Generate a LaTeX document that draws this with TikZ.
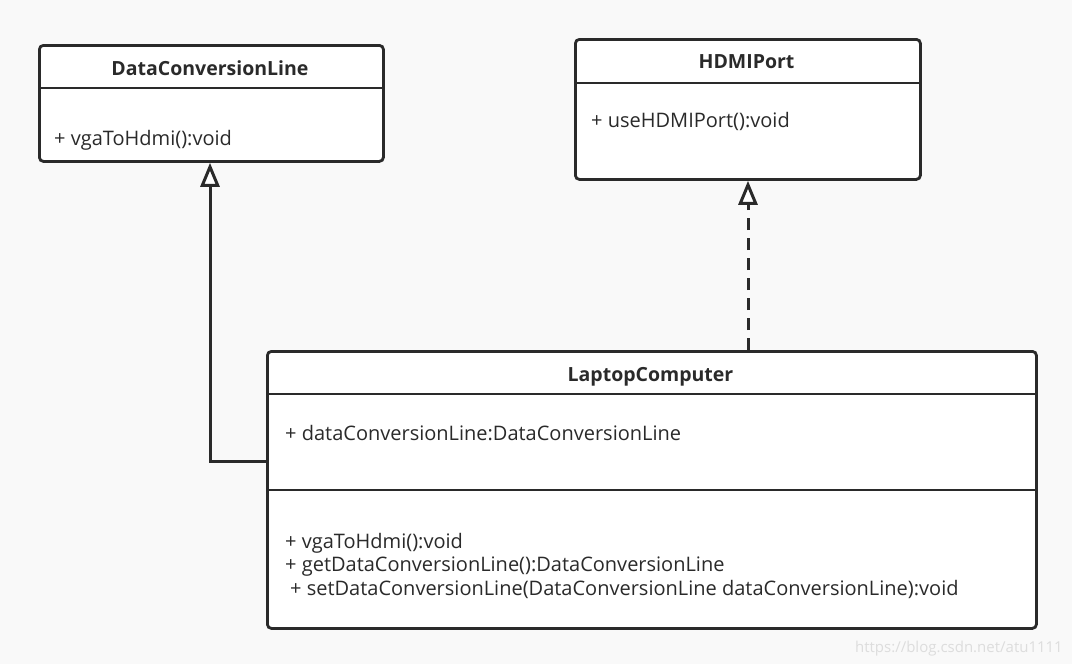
\documentclass[tikz,border=0pt]{standalone}
\usepackage{fontspec}
\setmainfont{Open Sans}
\usetikzlibrary{arrows.meta,calc}
\definecolor{ink}{HTML}{2A2A2A}
\definecolor{bg}{HTML}{F9F9F9}
\definecolor{wm}{HTML}{DDDDDD}
\tikzset{
  classbox/.style={draw=ink, line width=2.8pt, fill=white, rounded corners=4pt, anchor=north west, inner sep=0pt},
  divider/.style={draw=ink, line width=2.8pt},
  titletext/.style={text=ink, font=\fontsize{19.5}{23}\selectfont\bfseries, anchor=base, inner sep=0pt},
  bodytext/.style={text=ink, font=\fontsize{20}{24}\selectfont, anchor=base west, inner sep=0pt},
  inherit/.style={draw=ink, line width=3pt, -{Triangle[open, length=24pt, width=19pt, fill=white]}},
  realize/.style={draw=ink, line width=3pt, dash pattern=on 12pt off 8pt, -{Triangle[open, length=24pt, width=19pt, fill=white]}},
}
\begin{document}
\begin{tikzpicture}[x=1pt,y=-1pt]
\fill[bg] (0,0) rectangle (1072,664);
\useasboundingbox (0,0) rectangle (1072,664);

% DataConversionLine
\node[classbox, minimum width=344pt, minimum height=116pt] (dcl) at (38,44) {};
\draw[divider] (38,88) -- (382,88);
\node[titletext] (dcltitle) at (210,75) {DataConversionLine};
\node[bodytext] (dclm) at (54,145) {+ vgaToHdmi():void};

% HDMIPort
\node[classbox, minimum width=345pt, minimum height=140pt] (hdmi) at (574,38) {};
\draw[divider] (574,83) -- (919,83);
\node[titletext] (hdmititle) at (746.5,68) {HDMIPort};
\node[bodytext] (hdmim) at (591,127) {+ useHDMIPort():void};

% LaptopComputer
\node[classbox, minimum width=769pt, minimum height=277pt] (lap) at (266,350) {};
\draw[divider] (266,394) -- (1035,394);
\draw[divider] (266,490) -- (1035,490);
\node[titletext] (laptitle) at (650.5,381) {LaptopComputer};
\node[bodytext] (lapa) at (285,440) {+ dataConversionLine:DataConversionLine};
\node[bodytext] (lapm1) at (285,548) {+ vgaToHdmi():void};
\node[bodytext] (lapm2) at (285,571) {+ getDataConversionLine():DataConversionLine};
\node[bodytext] (lapm3) at (290,595) {+ setDataConversionLine(DataConversionLine dataConversionLine):void};

% connectors
\coordinate (bend) at (210,461);
\draw[inherit] (lap.west |- bend) -- (bend) -- (bend |- dcl.south);
\coordinate (rx) at (748,0);
\draw[realize] (rx |- lap.north) -- (rx |- hdmi.south);

% watermark
\node[text=wm, font=\fontsize{15}{18}\selectfont, anchor=base east, inner sep=0pt] (wmark) at (1063,652) {https://blog.csdn.net/atu1111};
\end{tikzpicture}
\end{document}
